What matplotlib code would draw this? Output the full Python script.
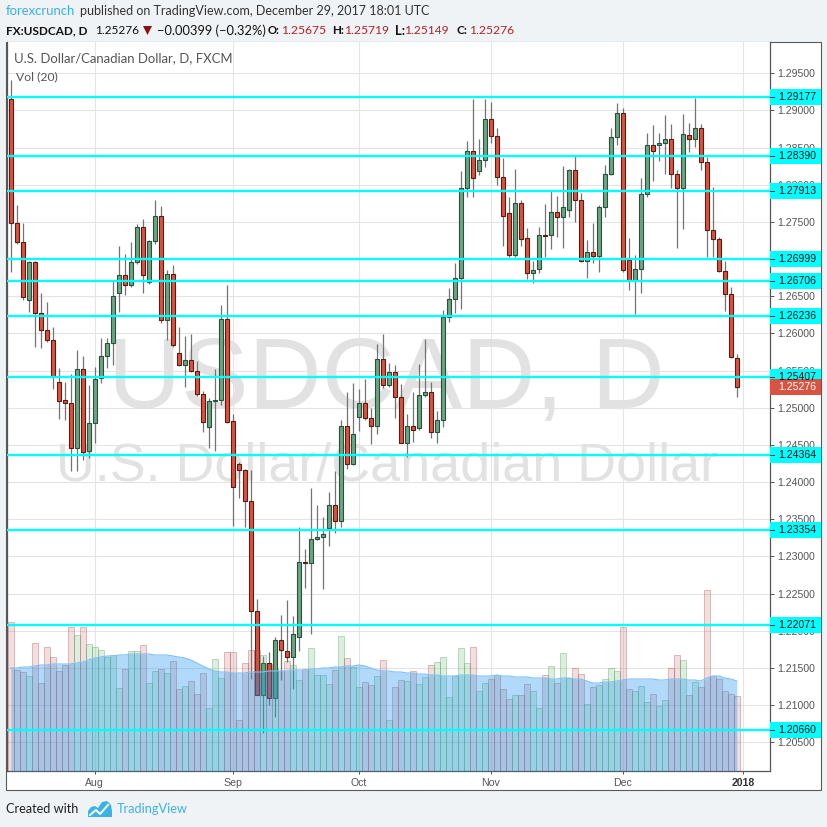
import matplotlib
matplotlib.use("Agg")
import matplotlib.pyplot as plt
from matplotlib.patches import Rectangle, Polygon
from matplotlib.lines import Line2D
from matplotlib.ticker import FormatStrFormatter
from matplotlib.transforms import blended_transform_factory
import numpy as np

# --- data: USDCAD daily, Jul 12 2017 .. Dec 29 2017 ---
opens = [1.2915, 1.2749, 1.2723, 1.2645, 1.2696, 1.2627, 1.2604, 1.2591, 1.2534, 1.2510,
         1.2506, 1.2446, 1.2552, 1.2442, 1.2480, 1.2540, 1.2570, 1.2587, 1.2654, 1.2678,
         1.2665, 1.2696, 1.2743, 1.2669, 1.2724, 1.2758, 1.2618, 1.2680, 1.2573, 1.2557,
         1.2564, 1.2550, 1.2519, 1.2474, 1.2509, 1.2511, 1.2619, 1.2482, 1.2424, 1.2416,
         1.2374, 1.2226, 1.2114, 1.2156, 1.2110, 1.2187, 1.2173, 1.2164, 1.2191, 1.2292,
         1.2291, 1.2323, 1.2326, 1.2338, 1.2369, 1.2348, 1.2476, 1.2424, 1.2487, 1.2507,
         1.2486, 1.2475, 1.2565, 1.2531, 1.2548, 1.2515, 1.2453, 1.2475, 1.2473, 1.2517,
         1.2521, 1.2467, 1.2484, 1.2622, 1.2646, 1.2675, 1.2796, 1.2846, 1.2818, 1.2833,
         1.2888, 1.2865, 1.2810, 1.2762, 1.2705, 1.2776, 1.2728, 1.2681, 1.2687, 1.2732,
         1.2732, 1.2764, 1.2756, 1.2766, 1.2820, 1.2779, 1.2697, 1.2710, 1.2704, 1.2770,
         1.2814, 1.2864, 1.2896, 1.2699, 1.2672, 1.2687, 1.2788, 1.2853, 1.2853, 1.2856,
         1.2862, 1.2815, 1.2795, 1.2867, 1.2861, 1.2876, 1.2831, 1.2739, 1.2727, 1.2684,
         1.2653, 1.25675]
highs = [1.2941, 1.2773, 1.2748, 1.2698, 1.2698, 1.2654, 1.2642, 1.2609, 1.2554, 1.2534,
         1.2545, 1.2578, 1.2569, 1.2531, 1.2555, 1.2594, 1.2594, 1.2672, 1.2717, 1.2707,
         1.2723, 1.2747, 1.2754, 1.2726, 1.2779, 1.2771, 1.2685, 1.2692, 1.2609, 1.2596,
         1.2599, 1.2563, 1.2523, 1.2513, 1.2552, 1.2638, 1.2665, 1.2492, 1.2427, 1.2418,
         1.2416, 1.2243, 1.2166, 1.2171, 1.2192, 1.2221, 1.2241, 1.2220, 1.2340, 1.2310,
         1.2392, 1.2369, 1.2353, 1.2387, 1.2415, 1.2484, 1.2521, 1.2533, 1.2525, 1.2539,
         1.2500, 1.2586, 1.2599, 1.2560, 1.2558, 1.2532, 1.2491, 1.2521, 1.2559, 1.2592,
         1.2535, 1.2496, 1.2632, 1.2661, 1.2695, 1.2818, 1.2859, 1.2916, 1.2862, 1.2915,
         1.2911, 1.2876, 1.2836, 1.2784, 1.2821, 1.2779, 1.2742, 1.2697, 1.2743, 1.2774,
         1.2791, 1.2785, 1.2825, 1.2821, 1.2839, 1.2789, 1.2726, 1.2748, 1.2773, 1.2827,
         1.2876, 1.2910, 1.2903, 1.2728, 1.2706, 1.2809, 1.2870, 1.2880, 1.2870, 1.2894,
         1.2882, 1.2820, 1.2895, 1.2883, 1.2917, 1.2882, 1.2837, 1.2797, 1.2730, 1.2697,
         1.2662, 1.25719]
lows = [1.2682, 1.2720, 1.2645, 1.2629, 1.2582, 1.2580, 1.2588, 1.2525, 1.2485, 1.2483,
        1.2415, 1.2415, 1.2430, 1.2433, 1.2453, 1.2533, 1.2554, 1.2558, 1.2629, 1.2652,
        1.2663, 1.2694, 1.2655, 1.2667, 1.2720, 1.2614, 1.2591, 1.2582, 1.2556, 1.2528,
        1.2548, 1.2516, 1.2468, 1.2446, 1.2442, 1.2503, 1.2479, 1.2341, 1.2378, 1.2339,
        1.2135, 1.2113, 1.2063, 1.2100, 1.2084, 1.2134, 1.2158, 1.2121, 1.2173, 1.2257,
        1.2196, 1.2322, 1.2256, 1.2314, 1.2332, 1.2340, 1.2418, 1.2423, 1.2469, 1.2483,
        1.2451, 1.2464, 1.2527, 1.2528, 1.2486, 1.2452, 1.2434, 1.2454, 1.2470, 1.2515,
        1.2459, 1.2453, 1.2474, 1.2616, 1.2627, 1.2633, 1.2783, 1.2783, 1.2813, 1.2824,
        1.2856, 1.2800, 1.2717, 1.2703, 1.2703, 1.2717, 1.2673, 1.2668, 1.2681, 1.2703,
        1.2714, 1.2730, 1.2715, 1.2756, 1.2750, 1.2696, 1.2674, 1.2695, 1.2682, 1.2756,
        1.2813, 1.2853, 1.2683, 1.2658, 1.2626, 1.2655, 1.2784, 1.2805, 1.2832, 1.2814,
        1.2795, 1.2715, 1.2741, 1.2844, 1.2851, 1.2820, 1.2703, 1.2703, 1.2683, 1.2630,
        1.2567, 1.25149]
closes = [1.2749, 1.2723, 1.2649, 1.2696, 1.2627, 1.2604, 1.2591, 1.2543, 1.2509, 1.2506,
          1.2446, 1.2552, 1.2440, 1.2480, 1.2538, 1.2570, 1.2587, 1.2650, 1.2678, 1.2665,
          1.2696, 1.2743, 1.2678, 1.2724, 1.2758, 1.2618, 1.2680, 1.2584, 1.2558, 1.2564,
          1.2550, 1.2519, 1.2481, 1.2509, 1.2511, 1.2619, 1.2481, 1.2393, 1.2416, 1.2374,
          1.2226, 1.2114, 1.2157, 1.2110, 1.2187, 1.2174, 1.2164, 1.2196, 1.2292, 1.2291,
          1.2323, 1.2326, 1.2330, 1.2369, 1.2348, 1.2476, 1.2424, 1.2464, 1.2507, 1.2486,
          1.2475, 1.2565, 1.2530, 1.2548, 1.2515, 1.2453, 1.2475, 1.2470, 1.2517, 1.2521,
          1.2467, 1.2484, 1.2622, 1.2646, 1.2675, 1.2796, 1.2846, 1.2809, 1.2833, 1.2888,
          1.2865, 1.2810, 1.2758, 1.2705, 1.2776, 1.2727, 1.2681, 1.2685, 1.2732, 1.2731,
          1.2764, 1.2756, 1.2770, 1.2820, 1.2779, 1.2697, 1.2710, 1.2704, 1.2770, 1.2814,
          1.2864, 1.2896, 1.2685, 1.2672, 1.2687, 1.2788, 1.2853, 1.2846, 1.2856, 1.2862,
          1.2815, 1.2795, 1.2868, 1.2861, 1.2876, 1.2831, 1.2739, 1.2727, 1.2684, 1.2653,
          1.2568, 1.25276]
volumes = [149, 101, 99, 95, 128, 88, 124, 114, 100, 106,
           144, 136, 144, 127, 124, 121, 114, 116, 83, 102,
           120, 120, 126, 88, 100, 102, 98, 110, 82, 85,
           90, 77, 98, 63, 112, 93, 119, 119, 51, 108,
           121, 121, 116, 107, 103, 100, 110, 106, 91, 102,
           123, 96, 96, 87, 101, 135, 113, 104, 84, 89,
           86, 95, 111, 51, 84, 91, 90, 100, 87, 94,
           106, 109, 114, 74, 95, 123, 108, 124, 80, 88,
           92, 96, 82, 72, 76, 76, 87, 80, 63, 96,
           105, 88, 118, 93, 103, 97, 67, 84, 86, 92,
           103, 100, 144, 82, 80, 85, 69, 77, 65, 71,
           103, 116, 111, 76, 89, 84, 181, 95, 92, 80,
           77, 75]
vol_ma = [103, 103, 104, 104, 105, 106, 106, 107, 107, 107,
          107, 108, 109, 111, 113, 114, 115, 115, 116, 116,
          117, 117, 117, 117, 116, 116, 116, 115, 114, 113,
          111, 108, 105, 102, 100, 99, 99, 98, 98, 98,
          99, 99, 99, 100, 100, 100, 100, 101, 101, 101,
          102, 102, 103, 103, 104, 104, 105, 105, 106, 105,
          103, 101, 100, 100, 99, 99, 98, 98, 97, 97,
          96, 96, 95, 95, 95, 96, 96, 96, 95, 95,
          95, 96, 95, 95, 94, 94, 94, 93, 93, 93,
          92, 92, 93, 93, 92, 92, 90, 88, 88, 89,
          89, 90, 91, 92, 92, 92, 92, 92, 91, 91,
          92, 92, 92, 91, 91, 90, 93, 95, 95, 93,
          92, 90]
month_pos = [14, 37, 58, 80, 102, 122]
month_labels = ['Aug', 'Sep', 'Oct', 'Nov', 'Dec', '2018']
levels = [1.29177, 1.28390, 1.27913, 1.26999, 1.26706, 1.26236,
          1.25407, 1.24364, 1.23354, 1.22071, 1.20660]
last_close = 1.25276

W, H = 828, 827
BG = '#f0f3f6'
plt.rcParams['font.family'] = ['Liberation Sans', 'DejaVu Sans']
UI = ['Lato', 'DejaVu Sans']

fig = plt.figure(figsize=(W / 100, H / 100), dpi=100)
fig.patch.set_facecolor(BG)
renderer = fig.canvas.get_renderer()


def fx(x):
    return x / W


def fy(y):
    return 1 - y / H


def fit(t, w):
    # scale the font so the text spans w pixels
    bb = t.get_window_extent(renderer)
    t.set_fontsize(t.get_fontsize() * w / bb.width)
    return t


def put(x, y, s, w, size=9, **kw):
    kw.setdefault('va', 'center')
    kw.setdefault('family', UI)
    t = fig.text(fx(x), fy(y), s, fontsize=size, **kw)
    return fit(t, w)


# white chart panel
fig.add_artist(Rectangle((fx(6), fy(790)), 815 / W, 748 / H, transform=fig.transFigure,
                         facecolor='white', edgecolor='#5a5a5a', lw=0.8, zorder=-1))

rect = [fx(7), fy(771), 763 / W, 729 / H]
xlim = (-0.63, 126.53)
ylim = (1.20112, 1.29921)

ax = fig.add_axes(rect)
ax.set_xlim(*xlim)
ax.set_ylim(*ylim)
ax.set_facecolor('white')
ax.set_axisbelow(True)
ax.spines['top'].set_visible(False)
for s in ['left', 'right', 'bottom']:
    ax.spines[s].set_color('#555555')
    ax.spines[s].set_linewidth(0.9)

ax.yaxis.tick_right()
ax.set_yticks(np.arange(1.205, 1.29501, 0.005))
ax.yaxis.set_major_formatter(FormatStrFormatter('%.5f'))
ax.tick_params(axis='y', length=3, width=0.7, color='#555555', labelsize=7.6,
               labelcolor='#555555', pad=2.5)
ax.set_xticks(month_pos)
ax.set_xticklabels(month_labels)
ax.tick_params(axis='x', length=2.5, width=0.7, color='#555555', labelsize=7.6,
               labelcolor='#555555', pad=2.5)
lbl = ax.get_xticklabels()[-1]
lbl.set_fontweight('bold')
lbl.set_color('#333333')
ax.grid(True, color='#e4e4e4', lw=0.8)

# watermark
wm1 = ax.text(fx(386.5), fy(408), 'USDCAD, D', transform=fig.transFigure, ha='center',
              va='baseline', fontsize=72, color='#e2e2e2', zorder=0.8)
fit(wm1, 557)
wm2 = ax.text(fx(387.5), fy(480), 'U.S. Dollar/Canadian Dollar', transform=fig.transFigure,
              ha='center', va='baseline', fontsize=37, color='#e2e2e2', zorder=0.8)
fit(wm2, 661)

# candles
o = np.array(opens)
c = np.array(closes)
idx = np.arange(len(o))
up = c >= o
ax.vlines(idx, lows, highs, color='#737375', lw=0.9, zorder=2)
body_lo = np.minimum(o, c)
body_h = np.maximum(np.abs(c - o), 0.00004)
ax.bar(idx, body_h, bottom=body_lo, width=0.72,
       color=np.where(up, '#6ba583', '#d75442'),
       edgecolor=np.where(up, '#225437', '#5b1a13'), linewidth=0.8, zorder=3)

# volume overlay
vax = fig.add_axes(rect)
vax.set_xlim(*xlim)
vax.set_ylim(0, 729)
vax.axis('off')
vax.patch.set_visible(False)
face = [(0.35, 0.68, 0.40, 0.20) if u else (0.72, 0.33, 0.33, 0.19) for u in up]
edge = [(0.30, 0.60, 0.35, 0.35) if u else (0.60, 0.30, 0.30, 0.35) for u in up]
vax.bar(idx, volumes, width=1.0, color=face, edgecolor=edge, linewidth=0.7, zorder=1)
vax.fill_between(idx, 0, vol_ma, color='#2196f3', alpha=0.35, lw=0, zorder=2)
vax.plot(idx, vol_ma, color='#7fbff5', lw=0.8, zorder=2)

# horizontal levels and price labels
lax = fig.add_axes(rect)
lax.set_xlim(*xlim)
lax.set_ylim(*ylim)
lax.axis('off')
lax.patch.set_visible(False)
tr = blended_transform_factory(lax.transAxes, lax.transData)
ppx = (ylim[1] - ylim[0]) / 729
bw = 51 / 763
for lv in levels:
    lax.axhline(lv, color='#00ffff', lw=1.7, zorder=2)
    lax.add_patch(Rectangle((1.0, lv - 8 * ppx), bw, 16 * ppx, transform=tr,
                            facecolor='#00ffff', edgecolor='none', clip_on=False, zorder=5))
    lax.add_artist(Line2D([1.0, 1.0 + 4 / 763], [lv, lv], transform=tr, color='#333333',
                          lw=0.7, clip_on=False, zorder=6))
    lax.text(1.0 + 8 / 763, lv, f'{lv:.5f}', transform=tr, ha='left', va='center',
             fontsize=7.6, color='#111111', clip_on=False, zorder=6)
lax.add_patch(Rectangle((1.0, last_close - 8 * ppx), bw, 16 * ppx, transform=tr,
                        facecolor='#d75442', edgecolor='none', clip_on=False, zorder=5))
lax.text(1.0 + 8 / 763, last_close, f'{last_close:.5f}', transform=tr, ha='left',
         va='center', fontsize=7.6, color='white', clip_on=False, zorder=6)

# header
put(6, 11, 'forexcrunch', 70, color='#3bb0e3')
put(80, 11, 'published on TradingView.com, December 29, 2017 18:01 UTC', 351, color='#333333')
put(6, 31, 'FX:USDCAD, D', 81.5, color='#111111', fontweight='bold')
put(94.6, 31, '1.25276', 44.4, color='#111111')
fig.add_artist(Polygon([(fx(143), fy(26)), (fx(152), fy(26)), (fx(147.5), fy(35))],
                       closed=True, transform=fig.transFigure, facecolor='#8b1010',
                       edgecolor='none'))
put(157, 31, '\u22120.00399 (\u22120.32%)', 109, color='#111111')
red = '#b22222'
for lab, lx, lw_, val, vx in [('O:', 268, 12, '1.25675', 281), ('H:', 332, 12, '1.25719', 344),
                              ('L:', 395, 10, '1.25149', 405), ('C:', 457, 11, '1.25276', 468.6)]:
    put(lx, 31, lab, lw_, color='#111111', fontweight='bold')
    put(vx, 31, val, 45, color=red)

# chart legend
put(14, 58, 'U.S. Dollar/Canadian Dollar, D, FXCM', 218, color='#555555')
put(15.7, 77, 'Vol (20)', 41.6, color='#555555')

# footer
put(6, 809, 'Created with', 73, color='#222222')
logo = [(88, 817), (88, 811), (91, 807), (95, 806), (98, 808), (102, 802), (107, 801),
        (111, 805), (112, 811), (112, 817)]
fig.add_artist(Polygon([(fx(a), fy(b)) for a, b in logo], closed=True,
                       transform=fig.transFigure, facecolor='#3bb3e4', edgecolor='none'))
fig.add_artist(Line2D([fx(90), fx(96), fx(100), fx(108)], [fy(815), fy(810), fy(814), fy(805)],
                      transform=fig.transFigure, color='white', lw=1.4))
put(117, 809, 'TradingView', 71, color='#3bb3e4')

fig.savefig('out.png', dpi=100, facecolor=BG)
